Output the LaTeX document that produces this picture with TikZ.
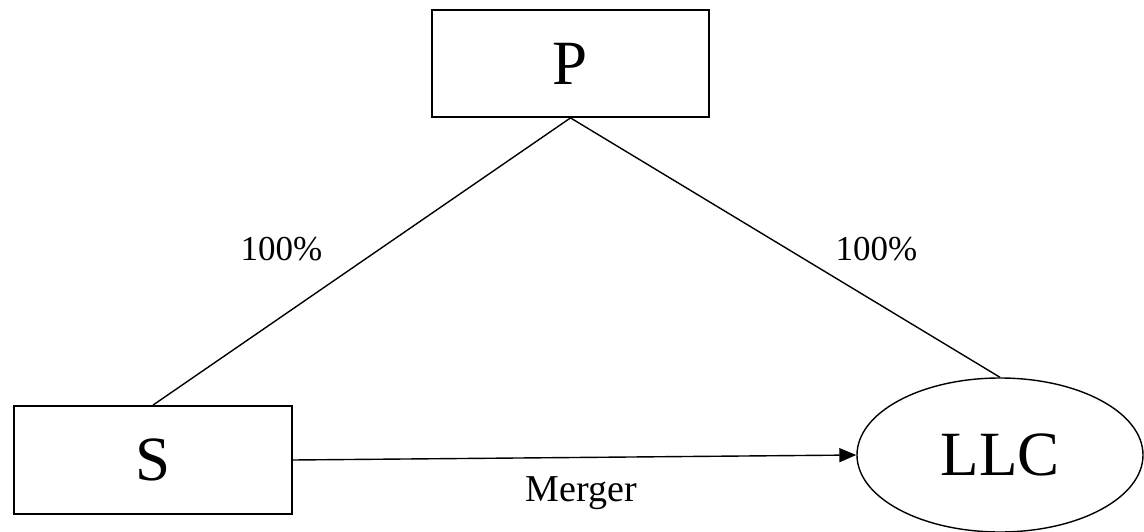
\documentclass[tikz,border=0pt]{standalone}
\usepackage{fontspec}
\setmainfont{Liberation Serif}
\usetikzlibrary{shapes.geometric,arrows.meta}
\begin{document}
\begin{tikzpicture}[x=1pt,y=-1pt,
    box/.style={draw,line width=1.8pt,inner sep=0pt,font=\fontsize{63}{63}\selectfont},
    link/.style={line width=1.4pt}]
    \useasboundingbox (0,0) rectangle (1144,532);

    \node[box,minimum width=277pt,minimum height=107pt] (P) at (570.5,63.5) {P};
    \node[box,minimum width=278pt,minimum height=108pt] (S) at (153,460) {S};
    \node[box,ellipse,line width=1.4pt,minimum width=286pt,minimum height=154pt] (LLC) at (1000,455) {LLC};

    \node[font=\fontsize{35}{35}\selectfont] (l1) at (281.5,249) {100\%};
    \node[font=\fontsize{35}{35}\selectfont] (l2) at (876.5,249) {100\%};
    \node[font=\fontsize{38}{38}\selectfont,anchor=base] (m) at (581.5,501) {Merger};

    \draw[link] (P.south) -- (S.north);
    \draw[link] (P.south) -- (LLC.north);
    \draw[link,-{Triangle[length=17pt,width=14pt]}] (S.east) -- (LLC.west);
  \end{tikzpicture}
\end{document}
